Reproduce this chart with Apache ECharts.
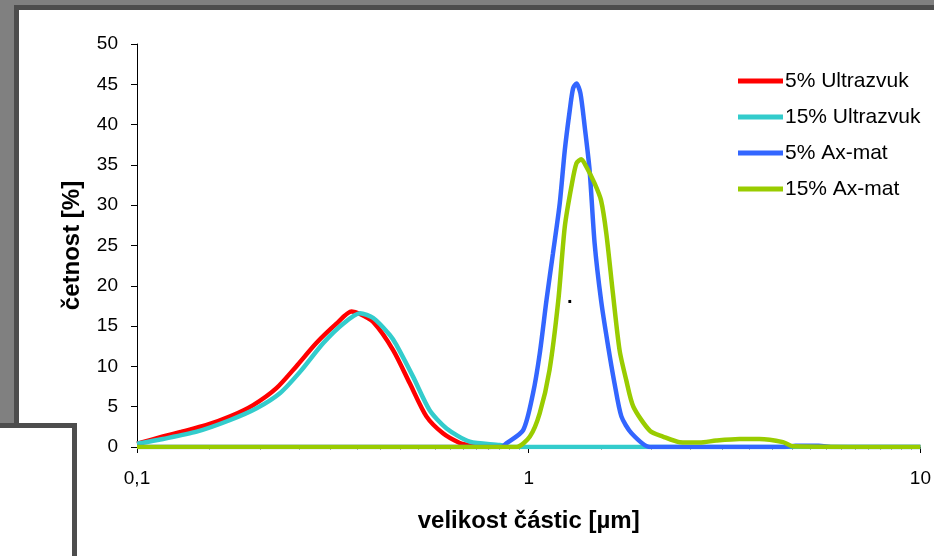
<!DOCTYPE html>
<html>
<head>
<meta charset="utf-8">
<script src="https://cdn.jsdelivr.net/npm/echarts@6/dist/echarts.min.js"></script>
<style>
  html, body { margin: 0; padding: 0; background: #ffffff; }
  #chart { width: 934px; height: 556px; }
</style>
</head>
<body>
<div id="chart"></div>
<script>
// Particle size distributions (size in µm, frequency in %)
const seriesNames = ['5% Ultrazvuk', '15% Ultrazvuk', '5% Ax-mat', '15% Ax-mat'];
const seriesColors = ['#ff0000', '#33cccc', '#3366ff', '#99cc00'];

const ultra5Size = [0.1, 0.1165, 0.13, 0.15, 0.173, 0.198, 0.227, 0.255, 0.287, 0.323, 0.353, 0.371, 0.401, 0.451, 0.497, 0.548, 0.604, 0.667, 0.707, 0.75, 0.8];
const ultra5Freq = [0.4, 1.3, 1.9, 2.7, 3.8, 5.2, 7.3, 10.0, 12.9, 15.3, 16.8, 16.5, 15.5, 12.0, 7.9, 3.8, 1.7, 0.5, 0.2, 0.05, 0];

const ultra15Size = [0.1, 0.1165, 0.142, 0.173, 0.202, 0.232, 0.261, 0.299, 0.336, 0.371, 0.401, 0.442, 0.459, 0.507, 0.558, 0.617, 0.707, 0.843, 0.9, 1.0, 2.5, 10];
const ultra15Freq = [0.4, 1.0, 1.9, 3.35, 4.8, 6.7, 9.35, 12.9, 15.3, 16.6, 16.0, 13.9, 12.7, 8.7, 4.6, 2.3, 0.66, 0.25, 0, 0, 0, 0];

const axmat5Size = [0.1, 0.85, 0.877, 0.968, 1.026, 1.067, 1.11, 1.153, 1.2, 1.236, 1.273, 1.298, 1.324, 1.355, 1.39, 1.43, 1.473, 1.53, 1.59, 1.656, 1.724, 1.83, 2.04, 4.5, 4.8, 5.5, 6.0, 10];
const axmat5Freq = [0, 0, 0.46, 2.1, 6.7, 11.6, 18.2, 24.0, 30.2, 36.8, 41.8, 44.5, 45.1, 43.9, 39.7, 34.4, 25.3, 18.2, 12.9, 7.9, 3.8, 1.7, 0, 0, 0.15, 0.15, 0, 0];

const axmat15Size = [0.1, 0.93, 1.007, 1.067, 1.13, 1.19, 1.236, 1.285, 1.324, 1.362, 1.402, 1.473, 1.53, 1.578, 1.64, 1.706, 1.774, 1.85, 2.04, 2.2, 2.43, 2.73, 3.01, 3.45, 3.88, 4.46, 4.72, 10];
const axmat15Freq = [0, 0, 1.3, 4.2, 9.55, 18.2, 27.3, 32.3, 35.2, 35.7, 34.8, 32.7, 30.6, 26.5, 19.1, 12.0, 8.3, 5.0, 2.0, 1.3, 0.6, 0.55, 0.8, 1.0, 1.0, 0.6, 0.1, 0];

const sizes = [ultra5Size, ultra15Size, axmat5Size, axmat15Size];
const freqs = [ultra5Freq, ultra15Freq, axmat5Freq, axmat15Freq];

const xTickLabels = { '0.1': '0,1', '1': '1', '10': '10' };
const yMin = 0, yMax = 50, yStep = 5;

const FONT = '"Liberation Sans", Arial, sans-serif';

const chart = echarts.init(document.getElementById('chart'), null, { renderer: 'canvas' });

const series = seriesNames.map((name, i) => ({
  name: name,
  type: 'line',
  data: sizes[i].map((s, k) => [s, freqs[i][k]]),
  symbol: 'none',
  smooth: 0.25,
  lineStyle: { color: seriesColors[i], width: 4.5 },
  itemStyle: { color: seriesColors[i] },
  z: 3 + i
}));

chart.setOption({
  animation: false,
  backgroundColor: '#ffffff',
  textStyle: { fontFamily: FONT },
  graphic: [
    // window frame around the plot sheet
    { type: 'rect', z: -10, silent: true, shape: { x: 0, y: 0, width: 934, height: 5 }, style: { fill: '#808080' } },
    { type: 'rect', z: -10, silent: true, shape: { x: 0, y: 0, width: 14, height: 423 }, style: { fill: '#808080' } },
    { type: 'rect', z: -9, silent: true, shape: { x: 14, y: 5, width: 920, height: 5 }, style: { fill: '#4d4d4d' } },
    { type: 'rect', z: -9, silent: true, shape: { x: 14, y: 5, width: 5, height: 418 }, style: { fill: '#4d4d4d' } },
    { type: 'rect', z: -9, silent: true, shape: { x: 0, y: 423, width: 77, height: 5 }, style: { fill: '#4d4d4d' } },
    { type: 'rect', z: -9, silent: true, shape: { x: 72, y: 423, width: 5, height: 133 }, style: { fill: '#4d4d4d' } },
    { type: 'text', z: 10, silent: true, left: 567, top: 287, style: { text: '.', fill: '#000', font: 'bold 20px ' + FONT } }
  ],
  grid: { left: 137, right: 13, top: 44, bottom: 109, containLabel: false },
  legend: {
    orient: 'vertical',
    left: 733,
    top: 64,
    itemWidth: 45,
    itemHeight: 5,
    itemGap: 12,
    icon: 'rect',
    data: seriesNames.map((n, i) => ({ name: n, itemStyle: { color: seriesColors[i] } })),
    textStyle: { fontFamily: FONT, fontSize: 21, lineHeight: 24, color: '#000', padding: [0, 0, 0, -3] }
  },
  xAxis: {
    type: 'log',
    logBase: 10,
    min: 0.1,
    max: 10,
    name: 'velikost částic [µm]',
    nameLocation: 'middle',
    nameGap: 62,
    nameTextStyle: { fontFamily: FONT, fontWeight: 'bold', fontSize: 24, color: '#000' },
    axisLine: { lineStyle: { color: '#000', width: 1 } },
    axisTick: { show: true, length: 6, lineStyle: { color: '#000' } },
    minorTick: { show: true, splitNumber: 17, length: 3, lineStyle: { color: '#b0b0b0' } },
    splitLine: { show: false },
    axisLabel: {
      margin: 22,
      fontFamily: FONT, fontSize: 19, color: '#000',
      formatter: v => xTickLabels[String(+v.toPrecision(6))] || ''
    }
  },
  yAxis: {
    type: 'value',
    min: yMin,
    max: yMax,
    interval: yStep,
    name: 'četnost [%]',
    nameLocation: 'middle',
    nameGap: 53,
    nameRotate: 90,
    nameTextStyle: { fontFamily: FONT, fontWeight: 'bold', fontSize: 24, color: '#000' },
    axisLine: { show: true, lineStyle: { color: '#000', width: 1 } },
    axisTick: { show: true, length: 6, lineStyle: { color: '#000' } },
    splitLine: { show: false },
    axisLabel: { margin: 19, fontFamily: FONT, fontSize: 19, color: '#000' }
  },
  series: series
});
</script>
</body>
</html>
